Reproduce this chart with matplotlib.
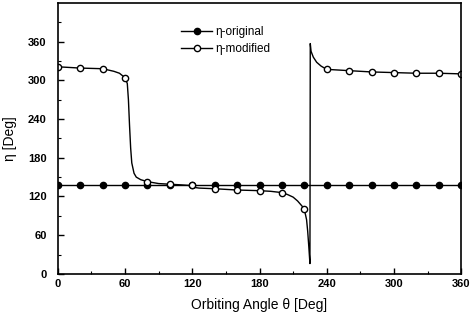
import matplotlib
matplotlib.use('Agg')
import matplotlib.pyplot as plt
from matplotlib.lines import Line2D

plt.rcParams['font.family'] = ['Liberation Sans', 'DejaVu Sans']

# marker positions (every 20 deg)
theta_mk = [0, 20, 40, 60, 80, 100, 120, 140, 160, 180, 200, 220, 240, 260, 280, 300, 320, 340, 360]
eta_orig = [138] * 19
eta_mod_mk = [321, 319, 318, 304, 143, 139, 138, 132, 130, 129, 126, 100, 317, 315, 313, 312, 311, 311, 310]

# modified curve
theta_mod = [0, 10, 20, 30, 40, 50, 55, 60, 62, 63, 64, 65, 66, 68, 70, 74, 80, 90, 100, 110, 118, 122, 126,
             140, 160, 180, 190, 200, 205, 210, 214, 218, 220, 222, 223, 224, 225, 225.3, 226, 228, 231, 235,
             240, 250, 260, 280, 300, 320, 340, 360]
eta_mod = [321, 320, 319, 318.5, 318, 314, 311, 304, 295, 270, 230, 195, 172, 156, 150, 146, 143, 140, 139, 138,
           137, 134, 133, 132, 130, 129, 128, 126, 123, 119, 113, 105, 100, 84, 66, 42, 16, 357, 345, 336, 328, 322,
           317, 316, 315, 313, 312, 311, 311, 310]

fig = plt.figure(figsize=(4.74, 3.23), dpi=100)
ax = fig.add_axes([0.122, 0.152, 0.851, 0.839])

ax.plot(theta_mk, eta_orig, color='k', lw=1.0, marker='o', ms=4.5, mfc='k', mec='k')
ax.plot(theta_mod, eta_mod, color='k', lw=1.0)
ax.plot(theta_mk, eta_mod_mk, ls='none', marker='o', ms=4.5, mfc='white', mec='k', mew=1.0)

ax.set_xlim(0, 360)
ax.set_ylim(0, 420)
ax.set_xticks(range(0, 361, 60))
ax.set_yticks(range(0, 361, 60))
ax.set_xticks(range(30, 360, 60), minor=True)
ax.set_yticks(range(30, 400, 60), minor=True)
ax.tick_params(direction='in', which='both', top=False, right=False, labelsize=8)
ax.tick_params(which='major', length=4, width=1)
ax.tick_params(which='minor', length=2.5, width=0.8)
ax.tick_params(axis='y', pad=8)
for lab in ax.get_xticklabels() + ax.get_yticklabels():
    lab.set_fontweight('bold')
for s in ax.spines.values():
    s.set_linewidth(1.2)

ax.set_xlabel('Orbiting Angle θ [Deg]', fontsize=10, labelpad=7)
ax.set_ylabel('η [Deg]', fontsize=10, labelpad=8)

handles = [Line2D([], [], color='k', lw=1, marker='o', ms=4.5, mfc='k', mec='k'),
           Line2D([], [], color='k', lw=1, marker='o', ms=4.5, mfc='white', mec='k')]
ax.legend(handles, ['η-original', 'η-modified'], loc='upper left', bbox_to_anchor=(0.28, 0.955),
          frameon=False, fontsize=8.5, handlelength=2.6, handletextpad=0.3, labelspacing=0.45)

fig.savefig('out.png', dpi=100)
